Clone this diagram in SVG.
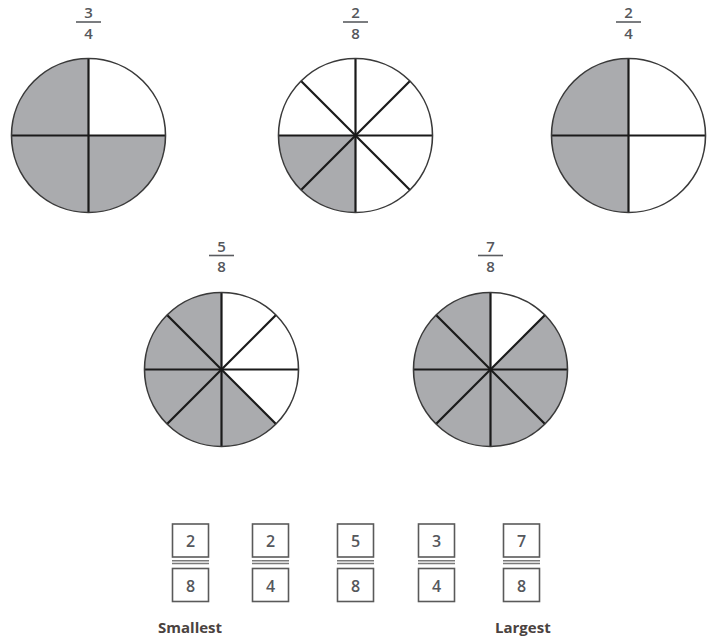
<svg xmlns="http://www.w3.org/2000/svg" width="714" height="642" viewBox="0 0 714 642">
<style>
.bg{fill:#ffffff}
.gray{fill:#aaabae}
.white{fill:#ffffff}
.rim{fill:none;stroke:#3a3a3a;stroke-width:1.6}
.div{stroke:#1a1a1a;stroke-width:2.2;fill:none}
.num{font-family:"Open Sans","DejaVu Sans",sans-serif;font-size:16px;font-weight:600;fill:#55575c;text-anchor:middle}
.frac{font-family:"Open Sans","DejaVu Sans",sans-serif;font-size:15px;font-weight:600;fill:#55575c;text-anchor:middle}
.bar{stroke:#5a5c60;stroke-width:1.6}
.box{fill:#ffffff;stroke:#5a5a5a;stroke-width:1.6}
.dbl{stroke:#7a7a7a;stroke-width:1.5}
.lbl{font-family:"Open Sans","DejaVu Sans",sans-serif;font-size:15px;font-weight:bold;fill:#4a4240}
</style>
<rect class="bg" x="0" y="0" width="714" height="642"/>

<g id="circle-3-4">
<text class="frac" x="88.5" y="18">3</text>
<line class="bar" x1="76" y1="22" x2="101" y2="22"/>
<text class="frac" x="88.5" y="38.5">4</text>
<circle class="gray" cx="88.5" cy="135.5" r="77"/>
<path class="white" d="M88.5 135.5 L88.5 58.5 A77 77 0 0 1 165.5 135.5 Z"/>
<line class="div" x1="88.5" y1="58.5" x2="88.5" y2="212.5"/>
<line class="div" x1="11.5" y1="135.5" x2="165.5" y2="135.5"/>
<circle class="rim" cx="88.5" cy="135.5" r="77"/>
</g>

<g id="circle-2-8">
<text class="frac" x="355.5" y="18">2</text>
<line class="bar" x1="343" y1="22" x2="368" y2="22"/>
<text class="frac" x="355.5" y="38.5">8</text>
<circle class="white" cx="355.5" cy="135.5" r="77"/>
<path class="gray" d="M355.5 135.5 L278.5 135.5 A77 77 0 0 0 355.5 212.5 Z"/>
<line class="div" x1="355.5" y1="58.5" x2="355.5" y2="212.5"/>
<line class="div" x1="278.5" y1="135.5" x2="432.5" y2="135.5"/>
<line class="div" x1="301.05" y1="81.05" x2="409.95" y2="189.95"/>
<line class="div" x1="409.95" y1="81.05" x2="301.05" y2="189.95"/>
<circle class="rim" cx="355.5" cy="135.5" r="77"/>
</g>

<g id="circle-2-4">
<text class="frac" x="628.5" y="18">2</text>
<line class="bar" x1="616" y1="22" x2="641" y2="22"/>
<text class="frac" x="628.5" y="38.5">4</text>
<circle class="white" cx="628.5" cy="135.5" r="77"/>
<path class="gray" d="M628.5 58.5 A77 77 0 0 0 628.5 212.5 Z"/>
<line class="div" x1="628.5" y1="58.5" x2="628.5" y2="212.5"/>
<line class="div" x1="551.5" y1="135.5" x2="705.5" y2="135.5"/>
<circle class="rim" cx="628.5" cy="135.5" r="77"/>
</g>

<g id="circle-5-8">
<text class="frac" x="221.5" y="251.5">5</text>
<line class="bar" x1="209" y1="255.5" x2="234" y2="255.5"/>
<text class="frac" x="221.5" y="272">8</text>
<circle class="gray" cx="221.5" cy="369.5" r="77"/>
<path class="white" d="M221.5 369.5 L221.5 292.5 A77 77 0 0 1 275.95 423.950 Z"/>
<line class="div" x1="221.5" y1="292.5" x2="221.5" y2="446.5"/>
<line class="div" x1="144.5" y1="369.5" x2="298.5" y2="369.5"/>
<line class="div" x1="167.05" y1="315.05" x2="275.95" y2="423.95"/>
<line class="div" x1="275.95" y1="315.05" x2="167.05" y2="423.95"/>
<circle class="rim" cx="221.5" cy="369.5" r="77"/>
</g>

<g id="circle-7-8">
<text class="frac" x="490.5" y="251.5">7</text>
<line class="bar" x1="478" y1="255.5" x2="503" y2="255.5"/>
<text class="frac" x="490.5" y="272">8</text>
<circle class="gray" cx="490.5" cy="369.5" r="77"/>
<path class="white" d="M490.5 369.5 L490.5 292.5 A77 77 0 0 1 544.95 315.05 Z"/>
<line class="div" x1="490.5" y1="292.5" x2="490.5" y2="446.5"/>
<line class="div" x1="413.5" y1="369.5" x2="567.5" y2="369.5"/>
<line class="div" x1="436.05" y1="315.05" x2="544.95" y2="423.95"/>
<line class="div" x1="544.95" y1="315.05" x2="436.05" y2="423.95"/>
<circle class="rim" cx="490.5" cy="369.5" r="77"/>
</g>

<g id="answer-1">
<rect class="box" x="172.5" y="524" width="36" height="33"/>
<text class="num" x="190.5" y="546.5">2</text>
<line class="dbl" x1="172" y1="560.7" x2="209" y2="560.7"/>
<line class="dbl" x1="172" y1="563.5" x2="209" y2="563.5"/>
<rect class="box" x="172.5" y="568.5" width="36" height="33"/>
<text class="num" x="190.5" y="591.5">8</text>
</g>
<g id="answer-2">
<rect class="box" x="252.5" y="524" width="36" height="33"/>
<text class="num" x="270.5" y="546.5">2</text>
<line class="dbl" x1="252" y1="560.7" x2="289" y2="560.7"/>
<line class="dbl" x1="252" y1="563.5" x2="289" y2="563.5"/>
<rect class="box" x="252.5" y="568.5" width="36" height="33"/>
<text class="num" x="270.5" y="591.5">4</text>
</g>
<g id="answer-3">
<rect class="box" x="337.5" y="524" width="36" height="33"/>
<text class="num" x="355.5" y="546.5">5</text>
<line class="dbl" x1="337" y1="560.7" x2="374" y2="560.7"/>
<line class="dbl" x1="337" y1="563.5" x2="374" y2="563.5"/>
<rect class="box" x="337.5" y="568.5" width="36" height="33"/>
<text class="num" x="355.5" y="591.5">8</text>
</g>
<g id="answer-4">
<rect class="box" x="418.5" y="524" width="36" height="33"/>
<text class="num" x="436.5" y="546.5">3</text>
<line class="dbl" x1="418" y1="560.7" x2="455" y2="560.7"/>
<line class="dbl" x1="418" y1="563.5" x2="455" y2="563.5"/>
<rect class="box" x="418.5" y="568.5" width="36" height="33"/>
<text class="num" x="436.5" y="591.5">4</text>
</g>
<g id="answer-5">
<rect class="box" x="503.5" y="524" width="36" height="33"/>
<text class="num" x="521.5" y="546.5">7</text>
<line class="dbl" x1="503" y1="560.7" x2="540" y2="560.7"/>
<line class="dbl" x1="503" y1="563.5" x2="540" y2="563.5"/>
<rect class="box" x="503.5" y="568.5" width="36" height="33"/>
<text class="num" x="521.5" y="591.5">8</text>
</g>

<g id="labels">
<text class="lbl" x="158" y="633">Smallest</text>
<text class="lbl" x="495" y="633">Largest</text>
</g>
</svg>
